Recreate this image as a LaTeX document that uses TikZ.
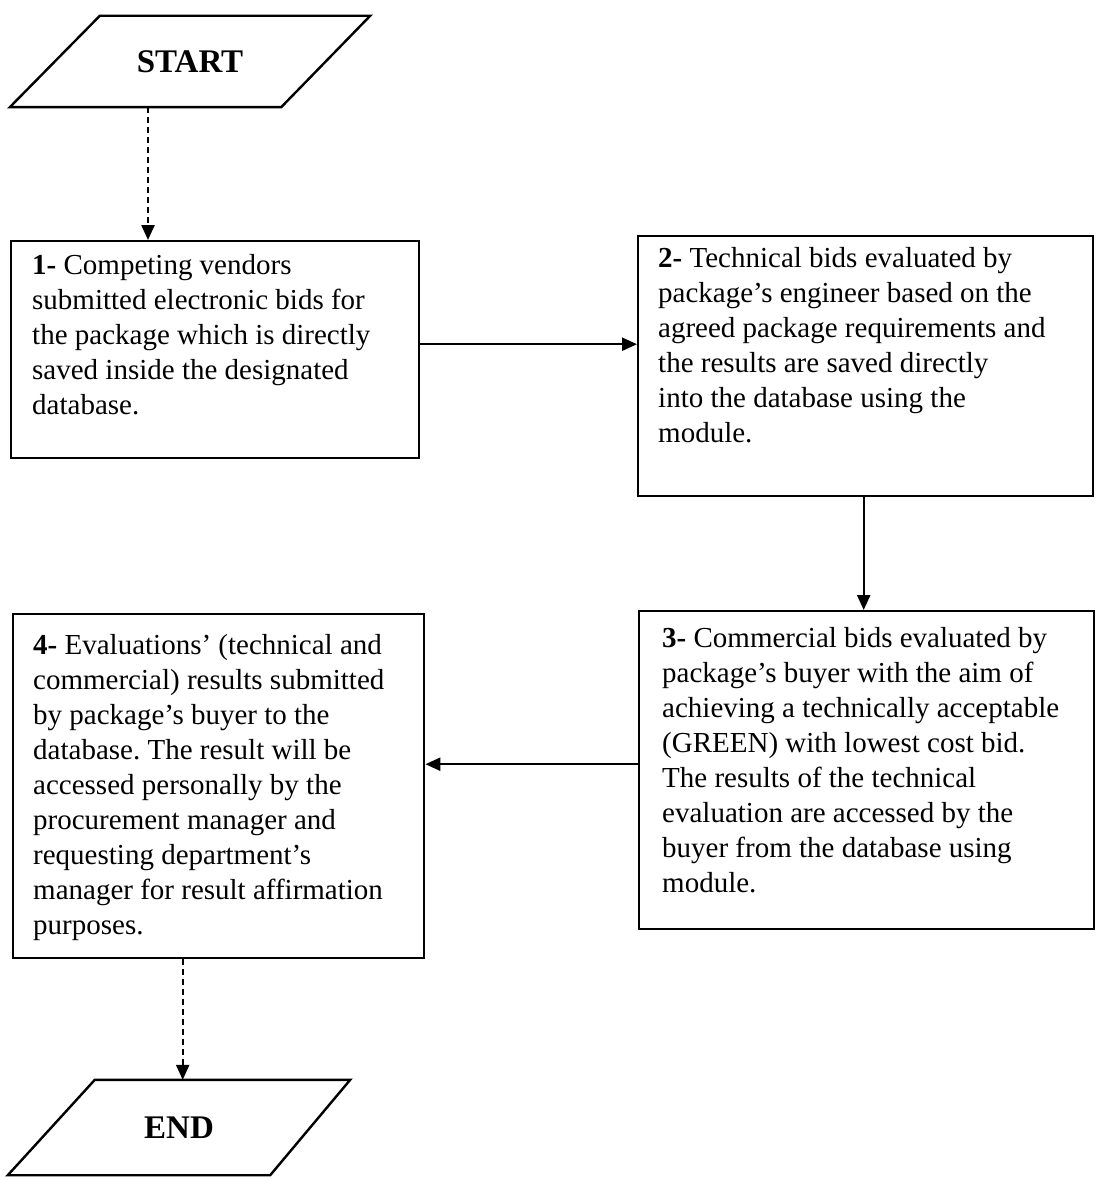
\documentclass[tikz,border=0pt]{standalone}
\usepackage{fontspec}
\setmainfont{Liberation Serif}
\usetikzlibrary{arrows.meta,calc}
\frenchspacing
\begin{document}
\begin{tikzpicture}[x=1pt,y=1pt,
  boxnode/.style={draw,line width=2.4pt,rectangle,inner sep=0pt,anchor=north west},
  txt/.style={inner sep=0pt,anchor=north west,align=left,font=\fontsize{29}{35}\selectfont},
  term/.style={inner sep=0pt,font=\fontsize{33}{38}\selectfont\bfseries},
  arr/.style={line width=2.4pt,-{Triangle[length=15pt,width=13pt]}},
  darr/.style={line width=2.4pt,dash pattern=on 6pt off 4pt,-{Triangle[length=15pt,width=13pt]}},
  shapeline/.style={line width=2.4pt,line join=miter}]
\useasboundingbox (0,0) rectangle (1095,-1180);

% START parallelogram
\node[term,minimum width=360pt,minimum height=91pt] (start) at (190,-61.5) {START};
\draw[shapeline] ($(start.north west)+(90,0)$) -- (start.north east)
  -- ($(start.south east)+(-89,0)$) -- (start.south west) -- cycle;

% Boxes
\node[boxnode,minimum width=408pt,minimum height=217pt] (b1) at (10,-240) {};
\node[boxnode,minimum width=455pt,minimum height=260pt] (b2) at (637,-235) {};
\node[boxnode,minimum width=455pt,minimum height=318pt] (b3) at (638,-610) {};
\node[boxnode,minimum width=411pt,minimum height=344pt] (b4) at (12,-613) {};

% Texts
\node[txt] (t1) at ($(b1.north west)+(22,-14)$) {\textbf{1-} Competing vendors\\submitted electronic bids for\\the package which is directly\\saved inside the designated\\database.};
\node[txt] (t2) at ($(b2.north west)+(21,-12)$) {\textbf{2-} Technical bids evaluated by\\package's engineer based on the\\agreed package requirements and\\the results are saved directly\\into the database using the\\module.};
\node[txt] (t3) at ($(b3.north west)+(24,-17)$) {\textbf{3-} Commercial bids evaluated by\\package's buyer with the aim of\\achieving a technically acceptable\\(GREEN) with lowest cost bid.\\The results of the technical\\evaluation are accessed by the\\buyer from the database using\\module.};
\node[txt] (t4) at ($(b4.north west)+(21,-21)$) {\textbf{4-} Evaluations' (technical and\\commercial) results submitted\\by package's buyer to the\\database. The result will be\\accessed personally by the\\procurement manager and\\requesting department's\\manager for result affirmation\\purposes.};

% END parallelogram
\node[term,minimum width=342pt,minimum height=95pt] (end) at (179,-1127.5) {END};
\draw[shapeline] ($(end.north west)+(87,0)$) -- (end.north east)
  -- ($(end.south east)+(-80,0)$) -- (end.south west) -- cycle;

% Connectors
\draw[darr] ([xshift=-42pt]start.south) -- ([xshift=-42pt]start.south |- b1.north);
\draw[arr] ([yshift=5.5pt]b1.east) -- ([yshift=5.5pt]b1.east -| b2.west);
\draw[arr] ([xshift=-2pt]b2.south) -- ([xshift=-2pt]b2.south |- b3.north);
\draw[arr] ([yshift=6pt]b3.west) -- ([yshift=6pt]b3.west -| b4.east);
\draw[darr] ([xshift=-36pt]b4.south) -- ([xshift=-36pt]b4.south |- end.north);
\end{tikzpicture}
\end{document}
